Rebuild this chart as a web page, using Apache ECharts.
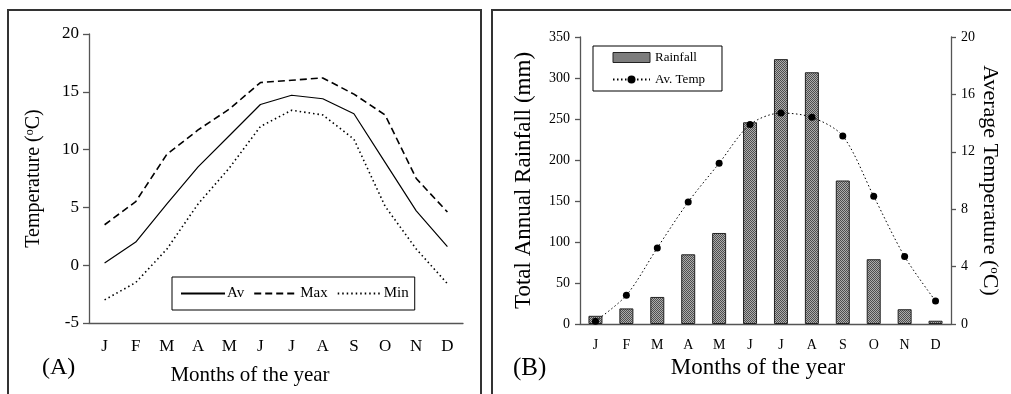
<!DOCTYPE html>
<html>
<head>
<meta charset="utf-8">
<script src="https://cdn.jsdelivr.net/npm/echarts@6/dist/echarts.min.js"></script>
<style>
html,body{margin:0;padding:0;background:#fff;}
#chart{width:1011px;height:394px;}
</style>
</head>
<body>
<div id="chart"></div>
<script>
// ---- data ----
var months = ['J','F','M','A','M','J','J','A','S','O','N','D'];
var avTemp = [0.2, 2.0, 5.3, 8.5, 11.2, 13.9, 14.7, 14.4, 13.1, 8.9, 4.7, 1.6];
var maxTemp = [3.5, 5.5, 9.6, 11.7, 13.5, 15.8, 16.0, 16.2, 14.8, 13.0, 7.5, 4.6];
var minTemp = [-3.0, -1.5, 1.4, 5.3, 8.4, 12.0, 13.4, 13.0, 10.9, 5.1, 1.4, -1.6];
var rainfall = [10, 19, 33, 85, 111, 246, 323, 307, 175, 79, 18, 4];
var tempTicksA = {min: -5, max: 20, interval: 5};
var rainTicks = {min: 0, max: 350, interval: 50};
var tempTicksB = {min: 0, max: 20, interval: 4};

var FONT = 'Liberation Serif';
var AXC = '#555';

// checker pattern for bars
var pc = document.createElement('canvas');
pc.width = 2; pc.height = 2;
var pctx = pc.getContext('2d');
pctx.fillStyle = '#adadad'; pctx.fillRect(0,0,2,2);
pctx.fillStyle = '#4e4e4e'; pctx.fillRect(0,0,1,1); pctx.fillRect(1,1,1,1);
var barPattern = {image: pc, repeat: 'repeat'};

function degName(txt, size, sup) {
  return {
    text: '{a|' + txt + ' (}{s|o}{a|C)}',
    rich: {
      a: {fontFamily: FONT, fontSize: size, color: '#000'},
      s: {fontFamily: FONT, fontSize: sup, color: '#000', verticalAlign: 'top', padding: [0, 0, 0, 0]}
    }
  };
}
var nameA = degName('Temperature', 20, 12);
var nameB = degName('Average Temperature', 22, 13);

var chart = echarts.init(document.getElementById('chart'), null, {renderer: 'canvas'});
var option = {
  backgroundColor: '#fff',
  animation: false,
  textStyle: {fontFamily: FONT, color: '#000'},
  grid: [
    {left: 89, top: 34, width: 374, height: 289},
    {left: 580, top: 37, width: 371, height: 287}
  ],
  xAxis: [
    {
      gridIndex: 0, type: 'category', data: months, boundaryGap: true,
      axisLine: {onZero: false, lineStyle: {color: AXC, width: 1.3}},
      axisTick: {length: 5, lineStyle: {color: AXC, width: 1.3}},
      axisLabel: {interval: 0, margin: 15, fontSize: 17, fontFamily: FONT, color: '#000'},
      name: 'Months of the year', nameLocation: 'middle', nameGap: 42,
      nameTextStyle: {fontSize: 21, fontFamily: FONT, color: '#000', padding: [0, 52, 0, 0]},
      splitLine: {show: false}
    },
    {
      gridIndex: 1, type: 'category', data: months, boundaryGap: true,
      axisLine: {onZero: false, lineStyle: {color: AXC, width: 1.3}},
      axisTick: {length: 5, lineStyle: {color: AXC, width: 1.3}},
      axisLabel: {interval: 0, margin: 14, fontSize: 14, fontFamily: FONT, color: '#000'},
      name: 'Months of the year', nameLocation: 'middle', nameGap: 25,
      nameTextStyle: {fontSize: 23, fontFamily: FONT, color: '#000', padding: [0, 15, 0, 0]},
      splitLine: {show: false}
    }
  ],
  yAxis: [
    {
      gridIndex: 0, type: 'value', min: tempTicksA.min, max: tempTicksA.max, interval: tempTicksA.interval,
      axisLine: {show: true, onZero: false, lineStyle: {color: AXC, width: 1.3}},
      axisTick: {show: true, length: 6, lineStyle: {color: AXC, width: 1.3}},
      axisLabel: {margin: 10, fontSize: 17, fontFamily: FONT, color: '#000'},
      splitLine: {show: false},
      name: nameA.text, nameLocation: 'middle', nameGap: 45, nameRotate: 90,
      nameTextStyle: {rich: nameA.rich}
    },
    {
      gridIndex: 1, type: 'value', min: rainTicks.min, max: rainTicks.max, interval: rainTicks.interval,
      axisLine: {show: true, onZero: false, lineStyle: {color: AXC, width: 1.3}},
      axisTick: {show: true, length: 5, lineStyle: {color: AXC, width: 1.3}},
      axisLabel: {margin: 10, fontSize: 14, fontFamily: FONT, color: '#000'},
      splitLine: {show: false},
      name: 'Total Annual Rainfall (mm)', nameLocation: 'middle', nameGap: 45, nameRotate: 90,
      nameTextStyle: {fontSize: 23, fontFamily: FONT, color: '#000'}
    },
    {
      gridIndex: 1, type: 'value', position: 'right', min: tempTicksB.min, max: tempTicksB.max, interval: tempTicksB.interval,
      axisLine: {show: true, onZero: false, lineStyle: {color: AXC, width: 1.3}},
      axisTick: {show: true, length: 5, lineStyle: {color: AXC, width: 1.3}},
      axisLabel: {margin: 10, fontSize: 14, fontFamily: FONT, color: '#000'},
      splitLine: {show: false},
      name: nameB.text, nameLocation: 'middle', nameGap: 28, nameRotate: -90,
      nameTextStyle: {rich: nameB.rich}
    }
  ],
  legend: [
    {
      left: 172, top: 277, orient: 'horizontal',
      data: ['Av', 'Max', 'Min'],
      itemWidth: 44, itemHeight: 14, itemGap: 9,
      padding: [9, 6, 9, 8],
      borderColor: '#000', borderWidth: 1,
      itemStyle: {opacity: 0},
      textStyle: {fontFamily: FONT, fontSize: 15, color: '#000', padding: [0, 0, 0, -3]}
    },
    {
      left: 593, top: 46, orient: 'vertical',
      data: [{name: 'Rainfall', icon: 'rect', itemStyle: {color: barPattern, borderColor: '#222', borderWidth: 1}}, 'Av. Temp'],
      itemWidth: 37, itemHeight: 10, itemGap: 9,
      padding: [5, 17, 5, 19],
      borderColor: '#000', borderWidth: 1,
      textStyle: {fontFamily: FONT, fontSize: 13, color: '#000'}
    }
  ],
  series: [
    {
      name: 'Av', type: 'line', xAxisIndex: 0, yAxisIndex: 0, data: avTemp,
      symbol: 'none', lineStyle: {color: '#000', width: 1.2, type: 'solid'}, itemStyle: {color: '#000'}
    },
    {
      name: 'Max', type: 'line', xAxisIndex: 0, yAxisIndex: 0, data: maxTemp,
      symbol: 'none', lineStyle: {color: '#000', width: 1.6, type: [7, 4]}, itemStyle: {color: '#000'}
    },
    {
      name: 'Min', type: 'line', xAxisIndex: 0, yAxisIndex: 0, data: minTemp,
      symbol: 'none', lineStyle: {color: '#000', width: 1.6, type: [1.5, 3]}, itemStyle: {color: '#000'}
    },
    {
      name: 'Rainfall', type: 'bar', xAxisIndex: 1, yAxisIndex: 1, data: rainfall,
      barWidth: 14,
      itemStyle: {color: barPattern, borderColor: '#222', borderWidth: 1}
    },
    {
      name: 'Av. Temp', type: 'line', xAxisIndex: 1, yAxisIndex: 2, data: avTemp,
      smooth: 0.3, symbol: 'circle', symbolSize: 7,
      lineStyle: {color: '#000', width: 1, type: [1.5, 2.5]}, itemStyle: {color: '#000'}
    }
  ],
  graphic: [
    {type: 'rect', shape: {x: 8, y: 10, width: 473, height: 420}, style: {fill: 'none', stroke: '#333', lineWidth: 2}, silent: true},
    {type: 'rect', shape: {x: 492, y: 10, width: 540, height: 420}, style: {fill: 'none', stroke: '#333', lineWidth: 2}, silent: true},
    {type: 'text', left: 42, top: 356, style: {text: '(A)', fontFamily: FONT, fontSize: 24, fill: '#000'}},
    {type: 'text', left: 513, top: 356, style: {text: '(B)', fontFamily: FONT, fontSize: 25, fill: '#000'}}
  ]
};
chart.setOption(option);
</script>
</body>
</html>
